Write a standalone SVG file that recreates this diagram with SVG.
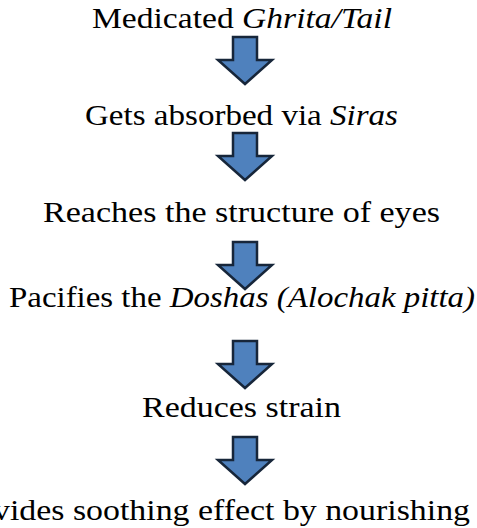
<svg xmlns="http://www.w3.org/2000/svg" width="477" height="528" viewBox="0 0 477 528">
<style>
.t{font-family:'Liberation Serif','DejaVu Serif',serif;font-size:30px;fill:#000;text-anchor:middle}
.i{font-style:italic}
.a{fill:#4F81BD;stroke:#17263a;stroke-width:2.5;stroke-linejoin:miter}
</style>
<defs>
<path id="arr" d="M233,0 H257 V23 H272 L245,47 L218,23 H233 Z"/>
</defs>
<rect width="477" height="528" fill="#fff"/>
<g id="n1"><text class="t" x="242" y="28" textLength="300" lengthAdjust="spacingAndGlyphs">Medicated <tspan class="i">Ghrita/Tail</tspan></text></g>
<g id="n2"><text class="t" x="241.5" y="125" textLength="313" lengthAdjust="spacingAndGlyphs">Gets absorbed via <tspan class="i">Siras</tspan></text></g>
<g id="n3"><text class="t" x="241.5" y="222" textLength="397" lengthAdjust="spacingAndGlyphs">Reaches the structure of eyes</text></g>
<g id="n4"><text class="t" x="242" y="307" textLength="466" lengthAdjust="spacingAndGlyphs">Pacifies the <tspan class="i">Doshas (Alochak pitta)</tspan></text></g>
<g id="n5"><text class="t" x="241.5" y="417" textLength="199" lengthAdjust="spacingAndGlyphs">Reduces strain</text></g>
<g id="n6"><text class="t" x="208" y="520" textLength="524" lengthAdjust="spacingAndGlyphs">Provides soothing effect by nourishing</text></g>
<g id="connectors">
<use href="#arr" class="a" transform="translate(0,37)"/>
<use href="#arr" class="a" transform="translate(0,133)"/>
<use href="#arr" class="a" transform="translate(0,242)"/>
<use href="#arr" class="a" transform="translate(0,341)"/>
<use href="#arr" class="a" transform="translate(0,437)"/>
</g>
</svg>
